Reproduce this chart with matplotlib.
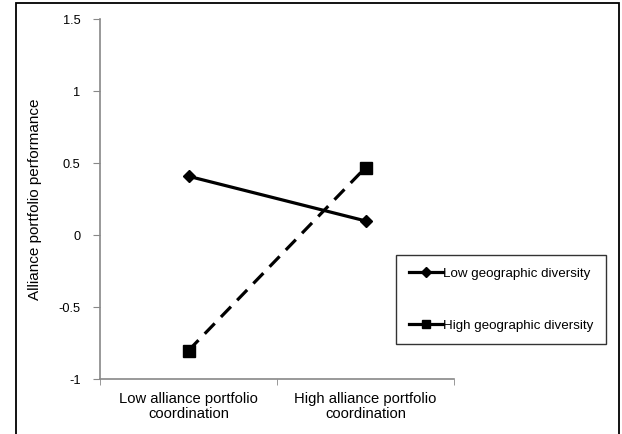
import matplotlib
matplotlib.use("Agg")
import matplotlib.pyplot as plt
from matplotlib.lines import Line2D
from matplotlib.patches import Rectangle

categories = ["Low alliance portfolio\ncoordination", "High alliance portfolio\ncoordination"]
low_geo = [0.41, 0.10]
high_geo = [-0.80, 0.47]
series_names = ["Low geographic diversity", "High geographic diversity"]
yticks = [-1, -0.5, 0, 0.5, 1, 1.5]
ytick_labels = ["-1", "-0.5", "0", "0.5", "1", "1.5"]

plt.rcParams['font.family'] = ['Liberation Sans', 'DejaVu Sans']

fig = plt.figure(figsize=(6.22, 4.34), dpi=100)
ax = fig.add_axes([100/622, 1-379.3/434, 354/622, (379.3-19.3)/434])

x = list(range(len(categories)))
ax.plot(x, low_geo, color='black', lw=2.3, marker='D', markersize=6.5, solid_capstyle='butt')
ax.plot(x, high_geo, color='black', lw=2.3, ls=(0, (4.5, 2.8)), marker='s', markersize=8.5)

ax.set_xlim(-0.5, 1.5)
ax.set_ylim(-1, 1.5)
ax.set_yticks(yticks)
ax.set_yticklabels(ytick_labels, fontsize=9.2)
ax.set_xticks(x)
ax.set_xticklabels(categories, fontsize=10.6, linespacing=1.1)
ax.tick_params(axis='x', length=0, pad=9)
ax.set_xticks([-0.5, 0.5, 1.5], minor=True)
ax.tick_params(axis='x', which='minor', length=4, color='#888888', direction='out')
ax.tick_params(axis='y', length=5, color='#888888', direction='out', pad=9)

for s in ['top', 'right']:
    ax.spines[s].set_visible(False)
for s in ['left', 'bottom']:
    ax.spines[s].set_color('#888888')
    ax.spines[s].set_linewidth(1.2)

ax.set_ylabel("Alliance portfolio performance", fontsize=11, labelpad=12)

handles = [
    Line2D([], [], color='black', lw=2.3, marker='D', markersize=5),
    Line2D([], [], color='black', lw=2.3, marker='s', markersize=6),
]
leg = fig.legend(handles, series_names, loc='upper left',
                 bbox_to_anchor=(396/622, 1-255/434), bbox_transform=fig.transFigure,
                 fontsize=9.6, frameon=True, fancybox=False, edgecolor='black',
                 labelspacing=2.95, handlelength=2.6, handletextpad=0.0,
                 borderpad=0.95, borderaxespad=0)
leg.get_frame().set_linewidth(1.0)

fig.patches.append(Rectangle((16/622, -0.05), (619-16)/622, 1.05-3/434,
                             transform=fig.transFigure, fill=False,
                             edgecolor='black', lw=1.3))

fig.savefig("out.png", dpi=100)
